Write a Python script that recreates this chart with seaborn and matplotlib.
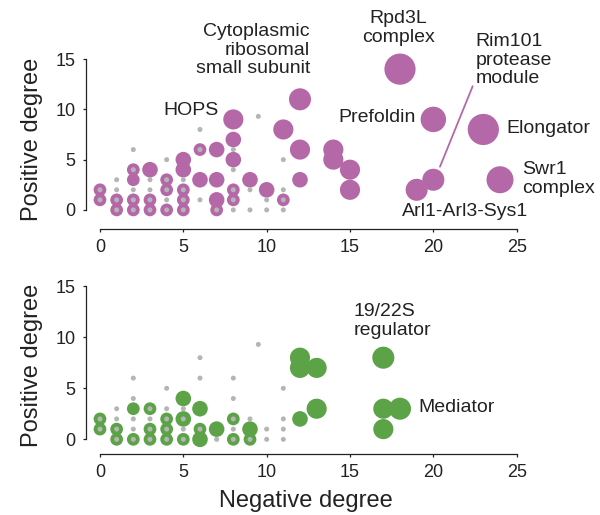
import matplotlib
matplotlib.use("Agg")
import matplotlib.pyplot as plt
import seaborn as sns
import pandas as pd

# Background set of complexes (gray dots), shared by both panels
gray_neg = [0, 0, 1, 1, 1, 1, 2, 2, 2, 2, 2, 3, 3, 3, 3, 4, 4, 4, 4, 4, 5, 5, 5, 5,
            6, 6, 6, 7, 8, 8, 8, 8, 8, 9, 9, 9.5, 10, 10, 11, 11, 11, 11]
gray_pos = [2, 1, 3, 2, 1, 0, 6, 4, 2, 1, 0, 3, 2, 1, 0, 5, 3, 2, 1, 0, 3, 2, 1, 0,
            8, 6, 1, 0, 6, 4, 2, 1, 0, 2, 0, 9.3, 1, 0, 5, 2, 1, 0]

# Upper panel: complexes (negative degree, positive degree, number of genes)
top_neg = [0, 0, 1, 1, 2, 2, 2, 2, 3, 3, 3, 4, 4, 4, 5, 5, 5, 5, 5, 6, 6, 7, 7, 7, 7,
           8, 8, 8, 8, 8, 9, 10, 11, 11, 12, 12, 12, 14, 14, 15, 15, 18, 20, 19, 20, 23, 24]
top_pos = [2, 1, 1, 0, 4, 3, 1, 0, 4, 1, 0, 3, 2, 0, 5, 4, 2, 1, 0, 6, 3, 6, 3, 1, 0,
           9, 7, 5, 2, 1, 3, 2, 1, 8, 11, 6, 3, 6, 5, 4, 2, 14, 9, 2, 3, 8, 3]
top_genes = [2, 2, 2, 2, 2, 2, 2, 2, 3, 2, 2, 2, 2, 2, 3, 3, 2, 2, 2, 2, 3, 3, 3, 3, 2,
             5, 3, 3, 2, 2, 3, 3, 2, 5, 6, 5, 3, 5, 5, 5, 5, 12, 8, 6, 6, 12, 9]

# Lower panel
bot_neg = [0, 0, 1, 1, 2, 2, 3, 3, 3, 4, 4, 4, 5, 5, 5, 6, 6, 6, 7, 8, 8, 9, 9,
           12, 12, 13, 13, 12, 17, 17, 18, 17]
bot_pos = [2, 1, 1, 0, 3, 0, 3, 1, 0, 2, 1, 0, 4, 2, 0, 3, 1, 0, 1, 2, 0, 1, 0,
           8, 7, 7, 3, 2, 8, 3, 3, 1]
bot_genes = [2, 2, 2, 2, 2, 2, 2, 2, 2, 2, 2, 2, 3, 3, 2, 3, 2, 3, 3, 2, 2, 3, 2,
             5, 5, 5, 5, 3, 6, 5, 6, 5]

x_ticks = [0, 5, 10, 15, 20, 25]
y_ticks = [0, 5, 10, 15]

PINK = "#B468A8"
GREEN = "#5BA346"
GRAY = "#B5B5B5"
INK = "#222222"

sns.set_style("ticks")
plt.rcParams["font.family"] = ["Liberation Sans", "DejaVu Sans"]
plt.rcParams["axes.edgecolor"] = INK
plt.rcParams["xtick.color"] = INK
plt.rcParams["ytick.color"] = INK

fig = plt.figure(figsize=(6, 5.15), dpi=100)
ax1 = fig.add_axes([0.1433, 0.5553, 0.7317, 0.3495])
ax2 = fig.add_axes([0.1433, 0.1184, 0.7317, 0.3456])

gray_df = pd.DataFrame({"neg": gray_neg, "pos": gray_pos})
top_df = pd.DataFrame({"neg": top_neg, "pos": top_pos, "genes": top_genes})
bot_df = pd.DataFrame({"neg": bot_neg, "pos": bot_pos, "genes": bot_genes})


def draw_panel(ax, df, color, ylim):
    sns.scatterplot(data=df, x="neg", y="pos", size="genes", sizes=(0, 504),
                    size_norm=(0, 12), color=color, edgecolor="none", alpha=1,
                    legend=False, ax=ax, zorder=2)
    sns.scatterplot(data=gray_df, x="neg", y="pos", s=13, color=GRAY,
                    edgecolor="none", legend=False, ax=ax, zorder=3)
    ax.set_xlim(-0.84, 25.5)
    ax.set_ylim(*ylim)
    ax.set_xticks(x_ticks)
    ax.set_yticks(y_ticks)
    sns.despine(ax=ax)
    ax.spines["left"].set_bounds(0, 15)
    ax.spines["bottom"].set_bounds(0, 25)
    for s in ("left", "bottom"):
        ax.spines[s].set_linewidth(0.9)
    ax.tick_params(labelsize=13, length=2.5, width=0.9, pad=5)
    ax.set_ylabel("Positive degree", fontsize=17, labelpad=9, color=INK)
    ax.set_xlabel("")
    ax.patch.set_alpha(0)


draw_panel(ax1, top_df, PINK, (-1.9, 16))
draw_panel(ax2, bot_df, GREEN, (-1.44, 16))
ax2.set_xlabel("Negative degree", fontsize=17, labelpad=6, color=INK)

fs = 14
ls = 1.13
# Upper panel annotations
ax1.text(7.1, 9.9, "HOPS", fontsize=fs, ha="right", va="center", color=INK)
ax1.text(12.6, 15.9, "Cytoplasmic\nribosomal\nsmall subunit", fontsize=fs,
         ha="right", va="center", multialignment="right", color=INK,
         linespacing=ls)
ax1.text(17.9, 18.1, "Rpd3L\ncomplex", fontsize=fs, ha="center", va="center",
         multialignment="center", color=INK, linespacing=ls)
ax1.text(22.55, 14.9, "Rim101\nprotease\nmodule", fontsize=fs, ha="left",
         va="center", multialignment="left", color=INK, linespacing=ls)
ax1.plot([20.4, 22.36], [4.3, 12.3], color=PINK, lw=1.3, zorder=1, clip_on=False)
ax1.text(18.94, 9.2, "Prefoldin", fontsize=fs, ha="right", va="center", color=INK)
ax1.text(24.4, 8.1, "Elongator", fontsize=fs, ha="left", va="center", color=INK)
ax1.text(25.3, 3.1, "Swr1\ncomplex", fontsize=fs, ha="left", va="center",
         multialignment="left", color=INK, linespacing=ls)
ax1.text(21.9, -0.2, "Arl1-Arl3-Sys1", fontsize=fs, ha="center", va="center",
         color=INK)

# Lower panel annotations
ax2.text(15.2, 11.6, "19/22S\nregulator", fontsize=fs, ha="left", va="center",
         multialignment="left", color=INK, linespacing=ls)
ax2.text(19.1, 3.1, "Mediator", fontsize=fs, ha="left", va="center", color=INK)

fig.savefig("out.png", dpi=100)
